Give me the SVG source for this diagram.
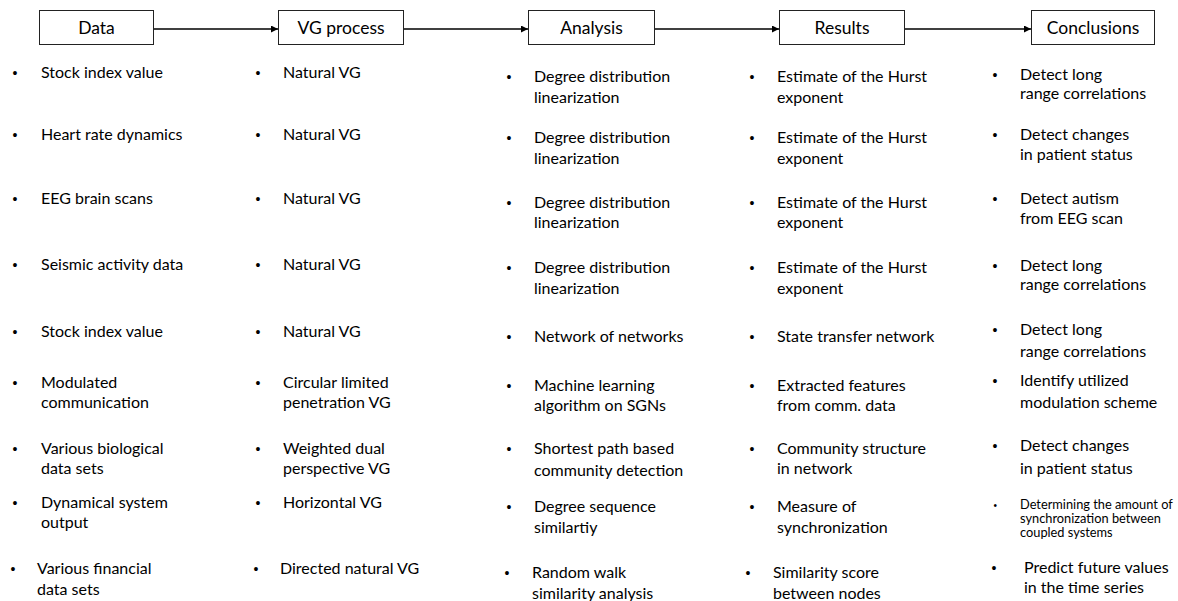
<svg xmlns="http://www.w3.org/2000/svg" width="1178" height="601" viewBox="0 0 1178 601">
<defs>
<marker id="ah" viewBox="0 0 10 10" refX="10" refY="5" markerWidth="8" markerHeight="7" markerUnits="userSpaceOnUse" orient="auto">
<path d="M0,0 L10,5 L0,10 z" fill="#000"/>
</marker>
<style>
.box{fill:#fff;stroke:#222;stroke-width:1}
.hd{font-family:Lato,"Liberation Sans",sans-serif;font-size:17.5px;fill:#000;text-anchor:middle}
.t{font-family:Lato,"Liberation Sans",sans-serif;font-size:16px;fill:#000}
.s{font-family:Lato,"Liberation Sans",sans-serif;font-size:12.8px;fill:#000}
.b{font-family:"Liberation Sans",sans-serif;font-size:14px;fill:#000}
.bs{font-family:"Liberation Sans",sans-serif;font-size:10px;fill:#000}
.c{stroke:#000;stroke-width:1.3;fill:none}
</style>
</defs>
<rect width="1178" height="601" fill="#fff"/>
<g id="connectors">
<line class="c" x1="153" y1="29" x2="278" y2="29" marker-end="url(#ah)"/>
<line class="c" x1="403" y1="29" x2="528" y2="29" marker-end="url(#ah)"/>
<line class="c" x1="654" y1="29" x2="779" y2="29" marker-end="url(#ah)"/>
<line class="c" x1="904" y1="29" x2="1031" y2="29" marker-end="url(#ah)"/>
</g>
<g id="node-data">
<rect class="box" x="39.5" y="10.5" width="114" height="34"/>
<text class="hd" x="96.5" y="33.5">Data</text>
</g>
<g id="node-vg">
<rect class="box" x="278.5" y="10.5" width="125" height="34"/>
<text class="hd" x="341" y="33.5">VG process</text>
</g>
<g id="node-analysis">
<rect class="box" x="528.5" y="10.5" width="126" height="34"/>
<text class="hd" x="591.5" y="33.5">Analysis</text>
</g>
<g id="node-results">
<rect class="box" x="779.5" y="10.5" width="125" height="34"/>
<text class="hd" x="842" y="33.5">Results</text>
</g>
<g id="node-conclusions">
<rect class="box" x="1031.5" y="10.5" width="123" height="34"/>
<text class="hd" x="1093" y="33.5">Conclusions</text>
</g>
<g id="col-data">
<text class="b" x="12.5" y="78">•</text><text class="t" x="41" y="78">Stock index value</text>
<text class="b" x="12.5" y="140">•</text><text class="t" x="41" y="140">Heart rate dynamics</text>
<text class="b" x="12.5" y="204">•</text><text class="t" x="41" y="204">EEG brain scans</text>
<text class="b" x="12.5" y="270">•</text><text class="t" x="41" y="270">Seismic activity data</text>
<text class="b" x="12.5" y="337">•</text><text class="t" x="41" y="337">Stock index value</text>
<text class="b" x="12.5" y="388">•</text><text class="t" x="41" y="388">Modulated</text><text class="t" x="41" y="408">communication</text>
<text class="b" x="12.5" y="454">•</text><text class="t" x="41" y="454">Various biological</text><text class="t" x="41" y="474">data sets</text>
<text class="b" x="12.5" y="508">•</text><text class="t" x="41" y="508">Dynamical system</text><text class="t" x="41" y="528">output</text>
<text class="b" x="10.5" y="574">•</text><text class="t" x="37" y="574">Various financial</text><text class="t" x="37" y="595">data sets</text>
</g>
<g id="col-vg">
<text class="b" x="255.5" y="78">•</text><text class="t" x="283" y="78">Natural VG</text>
<text class="b" x="255.5" y="140">•</text><text class="t" x="283" y="140">Natural VG</text>
<text class="b" x="255.5" y="204">•</text><text class="t" x="283" y="204">Natural VG</text>
<text class="b" x="255.5" y="270">•</text><text class="t" x="283" y="270">Natural VG</text>
<text class="b" x="255.5" y="337">•</text><text class="t" x="283" y="337">Natural VG</text>
<text class="b" x="255.5" y="388">•</text><text class="t" x="283" y="388">Circular limited</text><text class="t" x="283" y="408">penetration VG</text>
<text class="b" x="255.5" y="454">•</text><text class="t" x="283" y="454">Weighted dual</text><text class="t" x="283" y="474">perspective VG</text>
<text class="b" x="255.5" y="508">•</text><text class="t" x="283" y="508">Horizontal VG</text>
<text class="b" x="253.5" y="574">•</text><text class="t" x="280" y="574">Directed natural VG</text>
</g>
<g id="col-analysis">
<text class="b" x="506.5" y="82">•</text><text class="t" x="534" y="82">Degree distribution</text><text class="t" x="534" y="103">linearization</text>
<text class="b" x="506.5" y="143">•</text><text class="t" x="534" y="143">Degree distribution</text><text class="t" x="534" y="164">linearization</text>
<text class="b" x="506.5" y="208">•</text><text class="t" x="534" y="208">Degree distribution</text><text class="t" x="534" y="228">linearization</text>
<text class="b" x="506.5" y="273">•</text><text class="t" x="534" y="273">Degree distribution</text><text class="t" x="534" y="294">linearization</text>
<text class="b" x="506.5" y="342">•</text><text class="t" x="534" y="342">Network of networks</text>
<text class="b" x="506.5" y="391">•</text><text class="t" x="534" y="391">Machine learning</text><text class="t" x="534" y="411">algorithm on SGNs</text>
<text class="b" x="506.5" y="454">•</text><text class="t" x="534" y="454">Shortest path based</text><text class="t" x="534" y="476">community detection</text>
<text class="b" x="506.5" y="512">•</text><text class="t" x="534" y="512">Degree sequence</text><text class="t" x="534" y="533">similartiy</text>
<text class="b" x="504.5" y="578">•</text><text class="t" x="532" y="578">Random walk</text><text class="t" x="532" y="599">similarity analysis</text>
</g>
<g id="col-results">
<text class="b" x="749.5" y="82">•</text><text class="t" x="777" y="82">Estimate of the Hurst</text><text class="t" x="777" y="103">exponent</text>
<text class="b" x="749.5" y="143">•</text><text class="t" x="777" y="143">Estimate of the Hurst</text><text class="t" x="777" y="164">exponent</text>
<text class="b" x="749.5" y="208">•</text><text class="t" x="777" y="208">Estimate of the Hurst</text><text class="t" x="777" y="228">exponent</text>
<text class="b" x="749.5" y="273">•</text><text class="t" x="777" y="273">Estimate of the Hurst</text><text class="t" x="777" y="294">exponent</text>
<text class="b" x="749.5" y="342">•</text><text class="t" x="777" y="342">State transfer network</text>
<text class="b" x="749.5" y="391">•</text><text class="t" x="777" y="391">Extracted features</text><text class="t" x="777" y="411">from comm. data</text>
<text class="b" x="749.5" y="454">•</text><text class="t" x="777" y="454">Community structure</text><text class="t" x="777" y="474">in network</text>
<text class="b" x="749.5" y="512">•</text><text class="t" x="777" y="512">Measure of</text><text class="t" x="777" y="533">synchronization</text>
<text class="b" x="745.5" y="578">•</text><text class="t" x="773" y="578">Similarity score</text><text class="t" x="773" y="599">between nodes</text>
</g>
<g id="col-conclusions">
<text class="b" x="992.5" y="80">•</text><text class="t" x="1020" y="80">Detect long</text><text class="t" x="1020" y="99">range correlations</text>
<text class="b" x="992.5" y="140">•</text><text class="t" x="1020" y="140">Detect changes</text><text class="t" x="1020" y="160">in patient status</text>
<text class="b" x="992.5" y="204">•</text><text class="t" x="1020" y="204">Detect autism</text><text class="t" x="1020" y="224">from EEG scan</text>
<text class="b" x="992.5" y="271">•</text><text class="t" x="1020" y="271">Detect long</text><text class="t" x="1020" y="290">range correlations</text>
<text class="b" x="992.5" y="335">•</text><text class="t" x="1020" y="335">Detect long</text><text class="t" x="1020" y="357">range correlations</text>
<text class="b" x="992.5" y="386">•</text><text class="t" x="1020" y="386">Identify utilized</text><text class="t" x="1020" y="408">modulation scheme</text>
<text class="b" x="992.5" y="451">•</text><text class="t" x="1020" y="451">Detect changes</text><text class="t" x="1020" y="474">in patient status</text>
<text class="bs" x="993.5" y="509">•</text><text class="s" x="1020" y="509">Determining the amount of</text><text class="s" x="1020" y="523">synchronization between</text><text class="s" x="1020" y="537">coupled systems</text>
<text class="b" x="991.5" y="573">•</text><text class="t" x="1024" y="573">Predict future values</text><text class="t" x="1024" y="593">in the time series</text>
</g>
</svg>
